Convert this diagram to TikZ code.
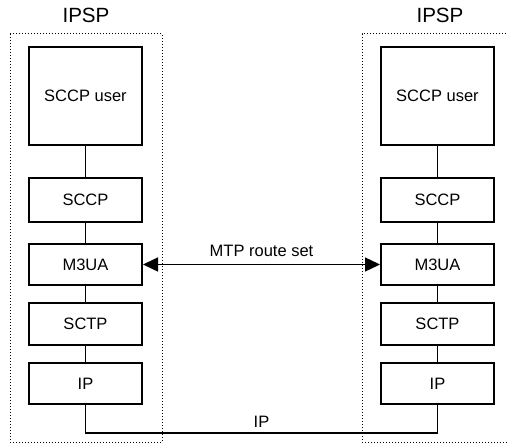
\documentclass[tikz,border=0pt]{standalone}
\usepackage{fontspec}
\setmainfont{Liberation Sans}
\usetikzlibrary{arrows.meta}
\begin{document}
\begin{tikzpicture}[x=1pt,y=-1pt,
  layer/.style={draw,line width=2pt,minimum width=113pt,inner sep=0pt,font=\fontsize{16.5}{18}\selectfont},
  conn/.style={line width=1.5pt},
  dots/.style={dotted,line width=1pt},
  title/.style={font=\fontsize{20.6}{23}\selectfont}]
\useasboundingbox (0,0) rectangle (507,444);
% dotted frames
\draw[dots] (10,34) rectangle (162,442);
\draw[dots] (509,34) -- (362,34) -- (362,442) -- (509,442);
\node[title] (tl) at (86,15) {IPSP};
\node[title] (tr) at (440,15) {IPSP};
% left stack
\node[layer,minimum height=98pt] (lu) at (85.5,96) {SCCP user};
\node[layer,minimum height=43pt] (ls) at (85.5,200) {SCCP};
\node[layer,minimum height=41pt] (lm) at (85.5,264.5) {M3UA};
\node[layer,minimum height=42pt] (lt) at (85.5,324) {SCTP};
\node[layer,minimum height=41pt] (li) at (85.5,383.5) {IP};
% right stack
\node[layer,minimum height=98pt] (ru) at (437.5,96) {SCCP user};
\node[layer,minimum height=43pt] (rs) at (437.5,200) {SCCP};
\node[layer,minimum height=41pt] (rm) at (437.5,264.5) {M3UA};
\node[layer,minimum height=42pt] (rt) at (437.5,324) {SCTP};
\node[layer,minimum height=41pt] (ri) at (437.5,383.5) {IP};
% vertical links
\foreach \a/\b in {lu/ls,ls/lm,lm/lt,lt/li,ru/rs,rs/rm,rm/rt,rt/ri}
  \draw[conn] (\a.south) -- (\b.north);
% route set arrow
\draw[conn,{Triangle[length=15pt,width=14pt]}-{Triangle[length=15pt,width=14pt]}] (lm.east) -- node[above=4pt,font=\fontsize{16.5}{18}\selectfont] (mtp) {MTP route set} (rm.west);
% IP link
\coordinate (cl) at (li.south |- 0,433);
\coordinate (cr) at (ri.south |- 0,433);
\draw[conn] (li.south) -- (cl) -- node[above=1pt,font=\fontsize{16.5}{18}\selectfont] (iplab) {IP} (cr) -- (ri.south);
\end{tikzpicture}
\end{document}
